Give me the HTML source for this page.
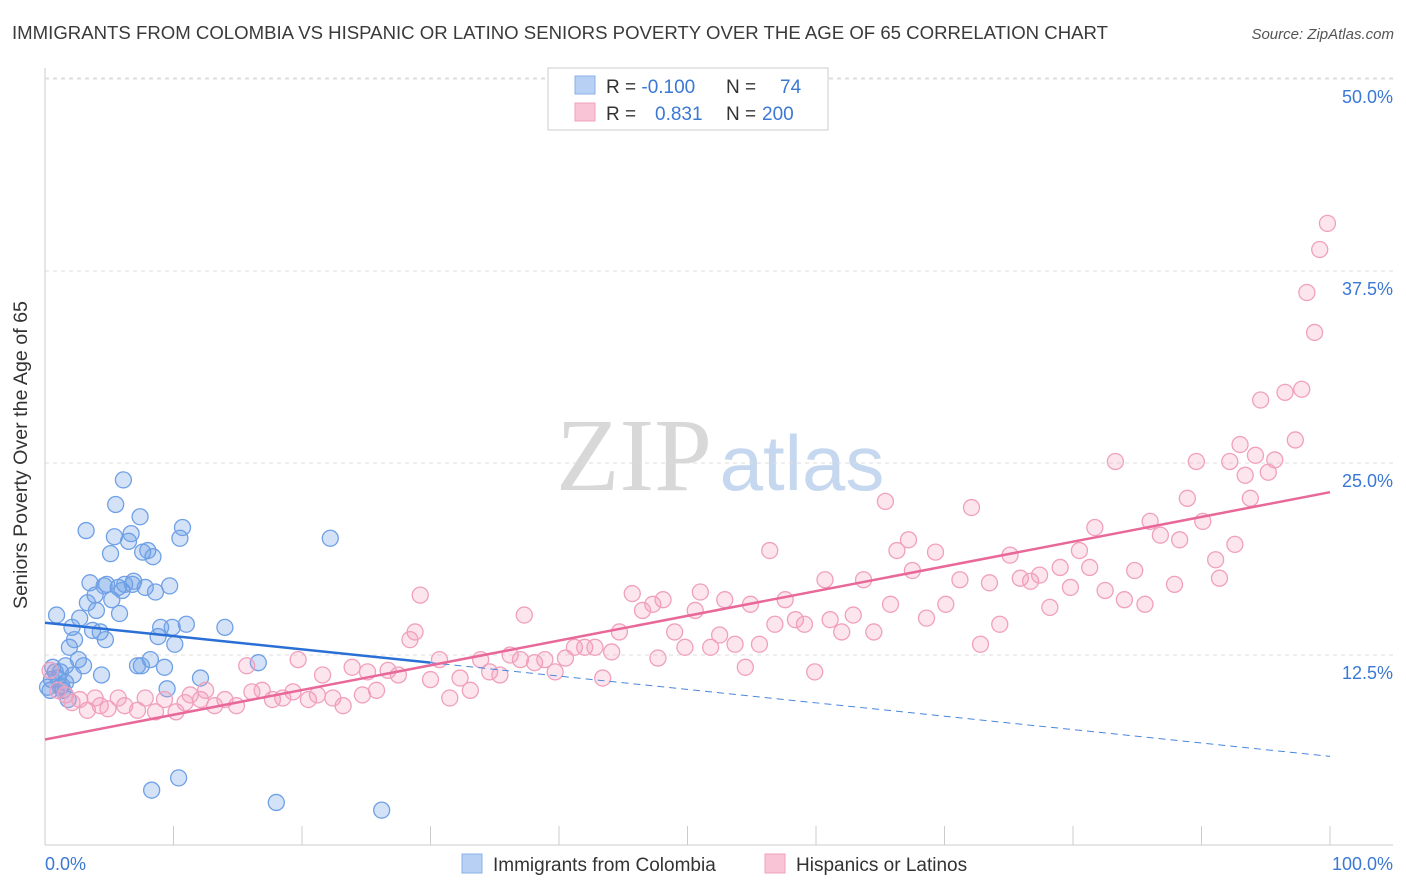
<!DOCTYPE html>
<html><head><meta charset="utf-8">
<style>
body{margin:0;background:#fff;font-family:"Liberation Sans",sans-serif;}
#wrap{position:relative;width:1406px;height:892px;overflow:hidden;}
</style></head>
<body>
<div id="wrap">
<svg id="svg" width="1406" height="892" xmlns="http://www.w3.org/2000/svg">
<text x="12" y="39" font-size="18" fill="#3a3a3a" textLength="1096" lengthAdjust="spacingAndGlyphs">IMMIGRANTS FROM COLOMBIA VS HISPANIC OR LATINO SENIORS POVERTY OVER THE AGE OF 65 CORRELATION CHART</text>
<text x="1394" y="39" font-size="15" fill="#555" font-style="italic" text-anchor="end">Source: ZipAtlas.com</text>
<g>
<text x="634" y="490" font-size="104" fill="#d8d8d8" font-family="Liberation Serif,serif" text-anchor="middle">ZIP</text>
<text x="802" y="490" font-size="78" fill="#c6d8ef" text-anchor="middle">atlas</text>
</g>
<g id="grid"></g>
<g id="pts"></g>
<g id="lines"></g>
<text x="27" y="455" font-size="19" fill="#333" text-anchor="middle" transform="rotate(-90 27 455)" textLength="308" lengthAdjust="spacingAndGlyphs">Seniors Poverty Over the Age of 65</text>
<text x="45" y="870" font-size="18" fill="#3a78d4">0.0%</text>
<text x="1393" y="870" font-size="18" fill="#3a78d4" text-anchor="end">100.0%</text>
<g>
<rect x="548" y="68" width="280" height="62" fill="#fff" stroke="#ccc"/>
<rect x="575" y="76" width="20" height="18" fill="#b7d0f3" stroke="#8ab0e8"/>
<rect x="575" y="103" width="20" height="18" fill="#f9c5d6" stroke="#f0a0bd"/>
<text x="606" y="93" font-size="19" fill="#333">R = <tspan fill="#3a78d4">-0.100</tspan><tspan x="726">N = </tspan><tspan x="780" fill="#3a78d4">74</tspan></text>
<text x="606" y="120" font-size="19" fill="#333">R = <tspan x="655" fill="#3a78d4">0.831</tspan><tspan x="726">N = </tspan><tspan x="762" fill="#3a78d4">200</tspan></text>
</g>
<g>
<rect x="462" y="854" width="20" height="19" fill="#b7d0f3" stroke="#8ab0e8"/>
<text x="493" y="871" font-size="19" fill="#333">Immigrants from Colombia</text>
<rect x="765" y="854" width="20" height="19" fill="#f9c5d6" stroke="#f0a0bd"/>
<text x="796" y="871" font-size="19" fill="#333">Hispanics or Latinos</text>
</g>
</svg>
</div>
<script>
const yTicks=[12.5,25,37.5,50];
const yTickLabels=["12.5%","25.0%","37.5%","50.0%"];
const xTicks=[0,10,20,30,40,50,60,70,80,90,100];
const blueX=[0.2,0.5,0.9,1.2,1.3,1.6,1.8,1.9,2.1,2.3,2.6,2.7,3.2,3.3,3.5,3.7,4.0,4.3,4.4,4.7,4.8,5.1,5.2,5.4,5.5,5.7,5.8,6.1,6.2,6.5,6.7,6.9,7.2,7.4,7.6,7.8,8.0,8.2,8.3,8.4,8.6,8.8,9.0,9.3,9.5,9.7,9.9,10.1,10.4,10.5,10.7,11.0,12.1,14.0,16.6,18.0,22.2,26.2,0.8,1.0,1.4,1.6,2.2,3.0,3.9,4.6,6.0,6.8,7.5,0.4,0.6,1.2];
const blueY=[10.4,10.9,15.1,11.4,10.5,10.7,9.6,13.0,14.3,13.5,12.2,14.9,20.6,15.9,17.2,14.1,15.4,14.0,11.2,13.5,17.1,19.1,16.1,20.2,22.3,16.9,15.2,23.9,17.1,19.9,20.4,17.3,11.8,21.5,19.2,16.9,19.3,12.2,3.7,18.9,16.6,13.7,14.3,11.7,10.3,17.0,14.3,13.2,4.5,20.1,20.8,14.5,11.0,14.3,12.0,2.9,20.1,2.4,11.4,11.0,10.2,11.8,11.2,11.8,16.4,17.0,16.7,17.1,11.8,10.2,11.7,10.4];
const pinkX=[0.4,1.0,1.6,2.1,2.7,3.3,3.9,4.3,4.9,5.7,6.2,7.2,7.8,8.6,9.3,10.2,10.9,11.3,12.1,12.5,13.2,14.0,14.9,15.7,16.1,16.9,17.7,18.5,19.3,19.7,20.5,21.2,21.6,22.4,23.2,23.9,24.7,25.1,25.8,26.7,27.5,28.4,28.8,29.2,30.0,30.7,31.5,32.3,33.1,33.9,34.6,35.4,36.2,37.0,37.3,38.1,38.9,39.7,40.5,41.2,42.0,42.8,43.4,44.1,44.7,45.7,46.5,47.3,47.7,48.1,49.0,49.8,50.6,51.0,51.8,52.5,52.9,53.7,54.5,54.9,55.6,56.4,56.8,57.6,58.4,59.1,59.9,60.7,61.1,62.0,62.9,63.7,64.5,65.4,65.8,66.3,67.2,67.5,68.6,69.3,70.1,71.2,72.1,72.8,73.5,74.3,75.1,75.9,76.7,77.4,78.2,79.0,79.8,80.5,81.3,81.7,82.5,83.3,84.0,84.8,85.6,86.0,86.8,87.9,88.3,88.9,89.6,90.1,91.1,91.4,92.2,92.6,93.0,93.4,93.8,94.2,94.6,95.2,95.7,96.5,97.3,97.8,98.2,98.8,99.2,99.8];
const pinkY=[11.5,10.2,9.9,9.4,9.6,8.9,9.7,9.2,9.0,9.7,9.2,8.9,9.7,8.8,9.6,8.8,9.4,9.9,9.6,10.2,9.2,9.6,9.2,11.8,10.1,10.2,9.6,9.7,10.1,12.2,9.6,9.9,11.2,9.7,9.2,11.7,9.9,11.4,10.2,11.5,11.2,13.5,14.0,16.4,10.9,12.2,9.7,11.0,10.2,12.2,11.4,11.2,12.5,12.2,15.1,12.0,12.2,11.4,12.3,13.0,13.0,13.0,11.0,12.7,14.0,16.5,15.4,15.8,12.3,16.1,14.0,13.0,15.4,16.6,13.0,13.8,16.1,13.2,11.7,15.8,13.2,19.3,14.5,16.1,14.8,14.5,11.4,17.4,14.8,14.0,15.1,17.4,14.0,22.5,15.8,19.3,20.0,18.0,14.9,19.2,15.8,17.4,22.1,13.2,17.2,14.5,19.0,17.5,17.3,17.7,15.6,18.2,16.9,19.3,18.2,20.8,16.7,25.1,16.1,18.0,15.8,21.2,20.3,17.1,20.0,22.7,25.1,21.2,18.7,17.5,25.1,19.7,26.2,24.2,22.7,25.5,29.1,24.4,25.2,29.6,26.5,29.8,36.1,33.5,38.9,40.6];
const blueLine=[[0,14.6],[30,12.0]], blueDash=[[30,12.0],[100,5.9]];
const pinkLine=[[0,7.0],[100,23.1]];
const NS='http://www.w3.org/2000/svg';
const X0=45,X1=1330,Y0=847,PXY=15.36;
function sx(v){return X0+(X1-X0)*v/100;}
function sy(v){return Y0-v*PXY;}
function mk(t,a,p){const e=document.createElementNS(NS,t);for(const k in a)e.setAttribute(k,a[k]);p.appendChild(e);return e;}
const grid=document.getElementById('grid'),pts=document.getElementById('pts'),lines=document.getElementById('lines');
let ax=mk('line',{x1:X0,x2:X0,y1:68,y2:845,stroke:'#ccc'},grid);


let bx=mk('line',{x1:X0,x2:1393,y1:845,y2:845,stroke:'#ccc'},grid);


let tg=mk('line',{x1:X0,x2:1393,y1:78,y2:78,stroke:'#ddd','stroke-dasharray':'4,4'},grid);


yTicks.forEach((t,i)=>{
 const g=mk('line',{x1:X0,x2:1393,y1:sy(t),y2:sy(t),stroke:'#ddd','stroke-dasharray':'4,4'},grid);
 
 
 const l=mk('text',{x:1393,y:sy(t)+24,'font-size':18,fill:'#3a78d4','text-anchor':'end'},grid);
 l.textContent=yTickLabels[i];
 
 
});
xTicks.forEach(t=>{
 const k=mk('line',{x1:sx(t),x2:sx(t),y1:826,y2:845,stroke:'#ccc'},grid);
 
 
});
blueX.forEach((v,i)=>{
 const c=mk('circle',{cx:sx(v),cy:sy(blueY[i]),r:8,fill:'rgba(110,160,230,0.3)',stroke:'#6fa0e6','stroke-width':1.3},pts);
 
 
});
pinkX.forEach((v,i)=>{
 const c=mk('circle',{cx:sx(v),cy:sy(pinkY[i]),r:8,fill:'rgba(245,150,185,0.25)',stroke:'#f0a0bd','stroke-width':1.3},pts);
 
 
});
let bl=mk('line',{x1:sx(blueLine[0][0]),y1:sy(blueLine[0][1]),x2:sx(blueLine[1][0]),y2:sy(blueLine[1][1]),stroke:'#2a6fd6','stroke-width':2.5},lines);


let bd=mk('line',{x1:sx(blueDash[0][0]),y1:sy(blueDash[0][1]),x2:sx(blueDash[1][0]),y2:sy(blueDash[1][1]),stroke:'#4a86dc','stroke-width':1,'stroke-dasharray':'7,5'},lines);


let pl=mk('line',{x1:sx(pinkLine[0][0]),y1:sy(pinkLine[0][1]),x2:sx(pinkLine[1][0]),y2:sy(pinkLine[1][1]),stroke:'#e8689a','stroke-width':2.5},lines);


</script>
</body></html>
